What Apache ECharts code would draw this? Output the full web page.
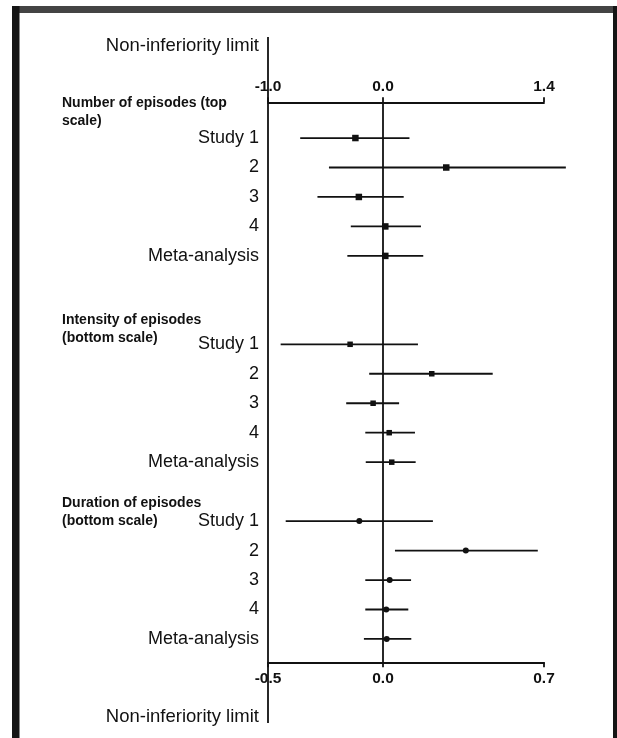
<!DOCTYPE html>
<html><head><meta charset="utf-8">
<script src="https://cdn.jsdelivr.net/npm/echarts@6/dist/echarts.min.js"></script>
<style>html,body{margin:0;padding:0;background:#fff}#c{width:617px;height:738px}</style>
</head><body><div id="c"></div>
<script>
// ---- data ----
const rowLabels = ['Study 1','2','3','4','Meta-analysis','','','Study 1','2','3','4','Meta-analysis','','Study 1','2','3','4','Meta-analysis'];
const sectionTitles = ['Number of episodes (top\nscale)','Intensity of episodes\n(bottom scale)','Duration of episodes\n(bottom scale)'];
const topTicks = [-1.0, 0.0, 1.4];
const bottomTicks = [-0.5, 0.0, 0.7];
const nonInferiorityLabel = 'Non-inferiority limit';
const nonInferiorityTop = -1.0;    // on top scale
const zeroValue = 0.0;

// Number of episodes (top scale)
const numberRows  = [0, 1, 2, 3, 4];
const numberLower = [-0.72, -0.47, -0.57, -0.28, -0.31];
const numberEst   = [-0.24,  0.55, -0.21,  0.02,  0.02];
const numberUpper = [ 0.23,  1.59,  0.18,  0.33,  0.35];
// Intensity of episodes (bottom scale)
const intensityRows  = [7, 8, 9, 10, 11];
const intensityLower = [-0.445, -0.06, -0.16, -0.077, -0.075];
const intensityEst   = [-0.143,  0.212, -0.043, 0.027, 0.038];
const intensityUpper = [ 0.152,  0.477,  0.07,  0.139, 0.142];
// Duration of episodes (bottom scale)
const durationRows  = [13, 14, 15, 16, 17];
const durationLower = [-0.423, 0.052, -0.077, -0.077, -0.083];
const durationEst   = [-0.103, 0.36,   0.029,  0.014,  0.016];
const durationUpper = [ 0.217, 0.673,  0.122,  0.11,   0.123];

// ---- chart ----
const INK = '#111';
const FONT = '"Liberation Sans", Arial, sans-serif';
function build(lo, est, hi, rows){ return rows.map((r,i)=>[lo[i], est[i], hi[i], r]); }

function forestItem(shape, size){
  return function(params, api){
    const y = api.value(3);
    const a = api.coord([api.value(0), y]);
    const b = api.coord([api.value(2), y]);
    const e = api.coord([api.value(1), y]);
    const kids = [{type:'line', shape:{x1:a[0], y1:a[1], x2:b[0], y2:b[1]}, style:{stroke:INK, lineWidth:1.8}}];
    if (shape === 'rect') kids.push({type:'rect', shape:{x:e[0]-size/2, y:e[1]-size/2, width:size, height:size}, style:{fill:INK}});
    else kids.push({type:'circle', shape:{cx:e[0], cy:e[1], r:size/2}, style:{fill:INK}});
    return {type:'group', children:kids};
  };
}

const chart = echarts.init(document.getElementById('c'), null, {renderer:'canvas'});
const axisCommon = {
  type:'value', gridIndex:0, splitLine:{show:false},
  axisLine:{show:true, onZero:false, lineStyle:{color:INK, width:1.8}},
  axisLabel:{formatter:v=>Number(v).toFixed(1), fontSize:15.5, fontWeight:'bold', color:INK, margin:8, fontFamily:FONT},
};
chart.setOption({
  animation:false,
  textStyle:{fontFamily:FONT},
  grid:{left:268, right:73, top:123.3, bottom:84.3, containLabel:false},
  xAxis:[
    Object.assign({}, axisCommon, {position:'top', min:topTicks[0], max:topTicks[topTicks.length-1], offset:21,
      axisTick:{show:true, customValues:topTicks, length:5, lineStyle:{color:INK, width:1.8}},
      axisLabel:Object.assign({}, axisCommon.axisLabel, {customValues:topTicks})}),
    Object.assign({}, axisCommon, {position:'bottom', min:bottomTicks[0], max:bottomTicks[bottomTicks.length-1], offset:8.6,
      axisTick:{show:true, customValues:bottomTicks, length:5, lineStyle:{color:INK, width:1.8}},
      axisLabel:Object.assign({}, axisCommon.axisLabel, {customValues:bottomTicks})})
  ],
  yAxis:{type:'category', data:rowLabels, inverse:true, axisLine:{show:false}, axisTick:{show:false}, splitLine:{show:false},
    axisLabel:{interval:0, fontSize:18, color:INK, margin:9, fontFamily:FONT}},
  series:[
    {type:'custom', xAxisIndex:0, clip:false, silent:true, data:[[nonInferiorityTop, 0]], encode:{x:0, y:1},
      renderItem(params, api){
        const x = api.coord([api.value(0), 0])[0];
        const cs = params.coordSys;
        return {type:'line', shape:{x1:x, y1:cs.y-86.3, x2:x, y2:cs.y+cs.height+69.3}, style:{stroke:INK, lineWidth:1.8}};
      }},
    {type:'custom', xAxisIndex:1, clip:false, silent:true, data:[[zeroValue, 0]], encode:{x:0, y:1},
      renderItem(params, api){
        const x = api.coord([api.value(0), 0])[0];
        const cs = params.coordSys;
        return {type:'line', shape:{x1:x, y1:cs.y-21, x2:x, y2:cs.y+cs.height+8.6}, style:{stroke:INK, lineWidth:1.8}};
      }},
    {type:'custom', name:'Number of episodes', xAxisIndex:0, clip:false, silent:true,
      data:build(numberLower, numberEst, numberUpper, numberRows), encode:{x:[0,1,2], y:3}, renderItem:forestItem('rect', 6.5)},
    {type:'custom', name:'Intensity of episodes', xAxisIndex:1, clip:false, silent:true,
      data:build(intensityLower, intensityEst, intensityUpper, intensityRows), encode:{x:[0,1,2], y:3}, renderItem:forestItem('rect', 5.5)},
    {type:'custom', name:'Duration of episodes', xAxisIndex:1, clip:false, silent:true,
      data:build(durationLower, durationEst, durationUpper, durationRows), encode:{x:[0,1,2], y:3}, renderItem:forestItem('circle', 6)}
  ],
  graphic:[
    {type:'rect', shape:{x:12, y:6, width:605, height:7}, style:{fill:'#444'}, silent:true},
    {type:'rect', shape:{x:12, y:6, width:7.5, height:732}, style:{fill:'#151515'}, silent:true},
    {type:'rect', shape:{x:613, y:6, width:4, height:732}, style:{fill:'#151515'}, silent:true},
    {type:'text', x:62, y:94, style:{text:sectionTitles[0], font:'bold 14px '+FONT, fill:INK, lineHeight:18}},
    {type:'text', x:62, y:311.5, style:{text:sectionTitles[1], font:'bold 14px '+FONT, fill:INK, lineHeight:17.5}},
    {type:'text', x:62, y:494.5, style:{text:sectionTitles[2], font:'bold 14px '+FONT, fill:INK, lineHeight:17.5}},
    {type:'text', x:259, y:46, style:{text:nonInferiorityLabel, font:'18.5px '+FONT, fill:INK, align:'right', verticalAlign:'middle'}},
    {type:'text', x:259, y:716.5, style:{text:nonInferiorityLabel, font:'18.5px '+FONT, fill:INK, align:'right', verticalAlign:'middle'}}
  ]
});
</script>
</body></html>
